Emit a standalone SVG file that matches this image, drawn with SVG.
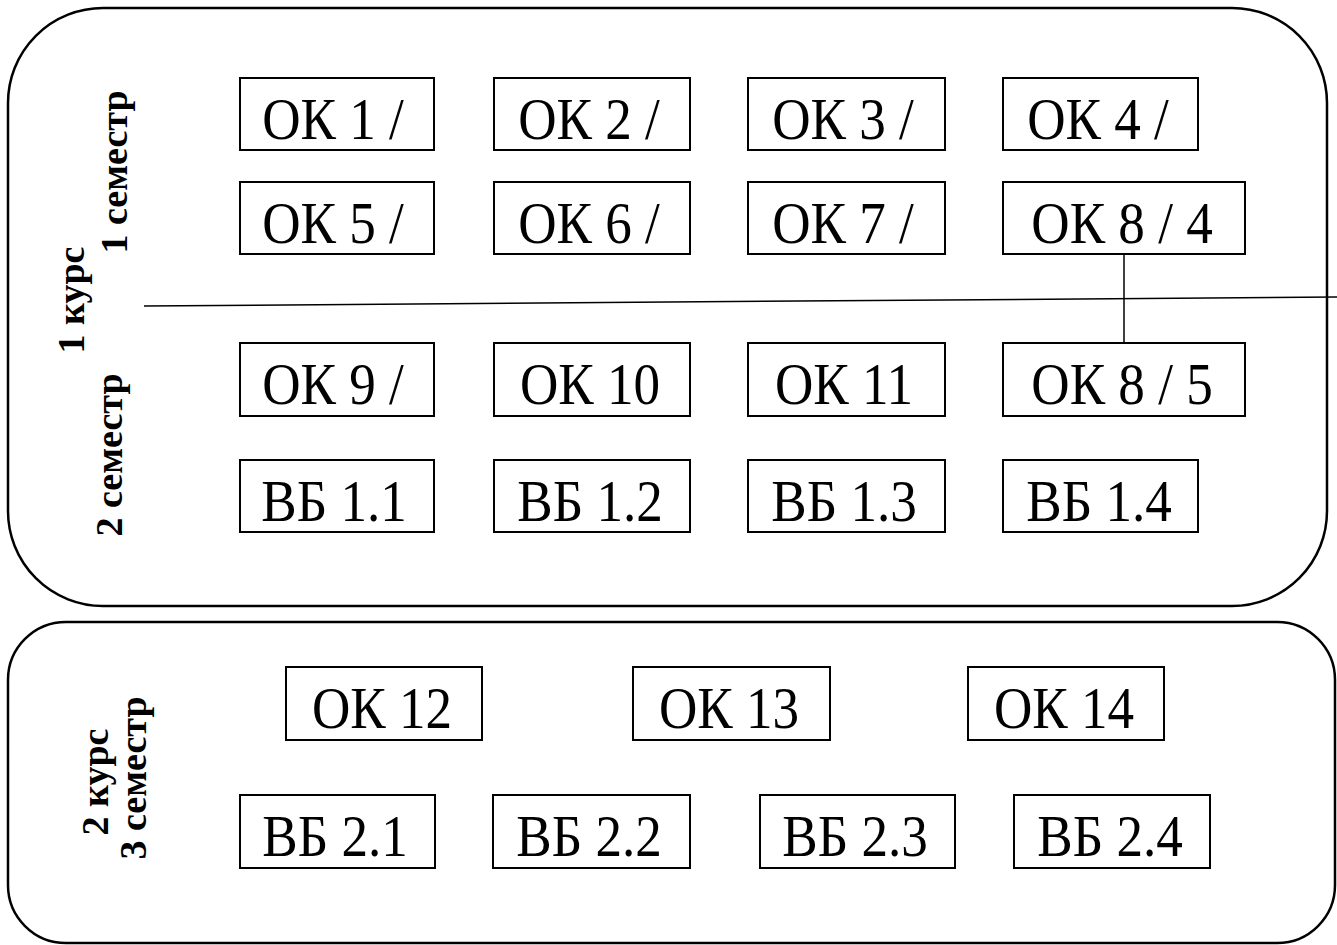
<svg xmlns="http://www.w3.org/2000/svg" width="1337" height="945" viewBox="0 0 1337 945">
<style>
.panel{fill:none;stroke:#000;stroke-width:2.5}
.box{fill:#fff;stroke:#000;stroke-width:2}
.lbl{font-family:"Liberation Serif","Times New Roman",serif;font-size:59px;text-anchor:middle;fill:#000}
.side{font-family:"Liberation Serif","Times New Roman",serif;font-size:38px;font-weight:bold;text-anchor:middle;fill:#000}
.conn{stroke:#000;stroke-width:1.5;fill:none}
</style>
<rect width="1337" height="945" fill="#fff"/>
<g id="panel1">
<rect class="panel" x="8" y="8" width="1319" height="598" rx="95" ry="95"/>
<text class="side" transform="translate(84,300) rotate(-90)">1 курс</text>
<text class="side" transform="translate(127,172) rotate(-90)">1 семестр</text>
<text class="side" transform="translate(122,455) rotate(-90)">2 семестр</text>
</g>
<g id="panel2">
<rect class="panel" x="8" y="622" width="1327" height="321" rx="58" ry="58"/>
<text class="side" transform="translate(108,782) rotate(-90)">2 курс</text>
<text class="side" transform="translate(146,778) rotate(-90)">3 семестр</text>
</g>
<g id="connectors">
<line class="conn" x1="144" y1="306" x2="1337" y2="297"/>
<line class="conn" x1="1124" y1="254" x2="1124" y2="343"/>
</g>
<g id="ok1"><rect class="box" x="240" y="78" width="194" height="72"/><text class="lbl" transform="translate(333,139) scale(0.9,1)">ОК 1 /</text></g>
<g id="ok2"><rect class="box" x="494" y="78" width="196" height="72"/><text class="lbl" transform="translate(589,139) scale(0.9,1)">ОК 2 /</text></g>
<g id="ok3"><rect class="box" x="748" y="78" width="197" height="72"/><text class="lbl" transform="translate(843,139) scale(0.9,1)">ОК 3 /</text></g>
<g id="ok4"><rect class="box" x="1003" y="78" width="195" height="72"/><text class="lbl" transform="translate(1098,139) scale(0.9,1)">ОК 4 /</text></g>
<g id="ok5"><rect class="box" x="240" y="182" width="194" height="72"/><text class="lbl" transform="translate(333,243) scale(0.9,1)">ОК 5 /</text></g>
<g id="ok6"><rect class="box" x="494" y="182" width="196" height="72"/><text class="lbl" transform="translate(589,243) scale(0.9,1)">ОК 6 /</text></g>
<g id="ok7"><rect class="box" x="748" y="182" width="197" height="72"/><text class="lbl" transform="translate(843,243) scale(0.9,1)">ОК 7 /</text></g>
<g id="ok8-4"><rect class="box" x="1003" y="182" width="242" height="72"/><text class="lbl" transform="translate(1122,243) scale(0.9,1)">ОК 8 / 4</text></g>
<g id="ok9"><rect class="box" x="240" y="343" width="194" height="73"/><text class="lbl" transform="translate(333,404) scale(0.9,1)">ОК 9 /</text></g>
<g id="ok10"><rect class="box" x="494" y="343" width="196" height="73"/><text class="lbl" transform="translate(590,404) scale(0.9,1)">ОК 10</text></g>
<g id="ok11"><rect class="box" x="748" y="343" width="197" height="73"/><text class="lbl" transform="translate(844,404) scale(0.9,1)">ОК 11</text></g>
<g id="ok8-5"><rect class="box" x="1003" y="343" width="242" height="73"/><text class="lbl" transform="translate(1122,404) scale(0.9,1)">ОК 8 / 5</text></g>
<g id="vb11"><rect class="box" x="240" y="460" width="194" height="72"/><text class="lbl" transform="translate(334,521) scale(0.9,1)">ВБ 1.1</text></g>
<g id="vb12"><rect class="box" x="494" y="460" width="196" height="72"/><text class="lbl" transform="translate(590,521) scale(0.9,1)">ВБ 1.2</text></g>
<g id="vb13"><rect class="box" x="748" y="460" width="197" height="72"/><text class="lbl" transform="translate(844,521) scale(0.9,1)">ВБ 1.3</text></g>
<g id="vb14"><rect class="box" x="1003" y="460" width="195" height="72"/><text class="lbl" transform="translate(1099,521) scale(0.9,1)">ВБ 1.4</text></g>
<g id="ok12"><rect class="box" x="286" y="667" width="196" height="73"/><text class="lbl" transform="translate(382,728) scale(0.9,1)">ОК 12</text></g>
<g id="ok13"><rect class="box" x="633" y="667" width="197" height="73"/><text class="lbl" transform="translate(729,728) scale(0.9,1)">ОК 13</text></g>
<g id="ok14"><rect class="box" x="968" y="667" width="196" height="73"/><text class="lbl" transform="translate(1064,728) scale(0.9,1)">ОК 14</text></g>
<g id="vb21"><rect class="box" x="240" y="795" width="195" height="73"/><text class="lbl" transform="translate(335,856) scale(0.9,1)">ВБ 2.1</text></g>
<g id="vb22"><rect class="box" x="493" y="795" width="197" height="73"/><text class="lbl" transform="translate(589,856) scale(0.9,1)">ВБ 2.2</text></g>
<g id="vb23"><rect class="box" x="760" y="795" width="195" height="73"/><text class="lbl" transform="translate(855,856) scale(0.9,1)">ВБ 2.3</text></g>
<g id="vb24"><rect class="box" x="1014" y="795" width="196" height="73"/><text class="lbl" transform="translate(1110,856) scale(0.9,1)">ВБ 2.4</text></g>
</svg>
